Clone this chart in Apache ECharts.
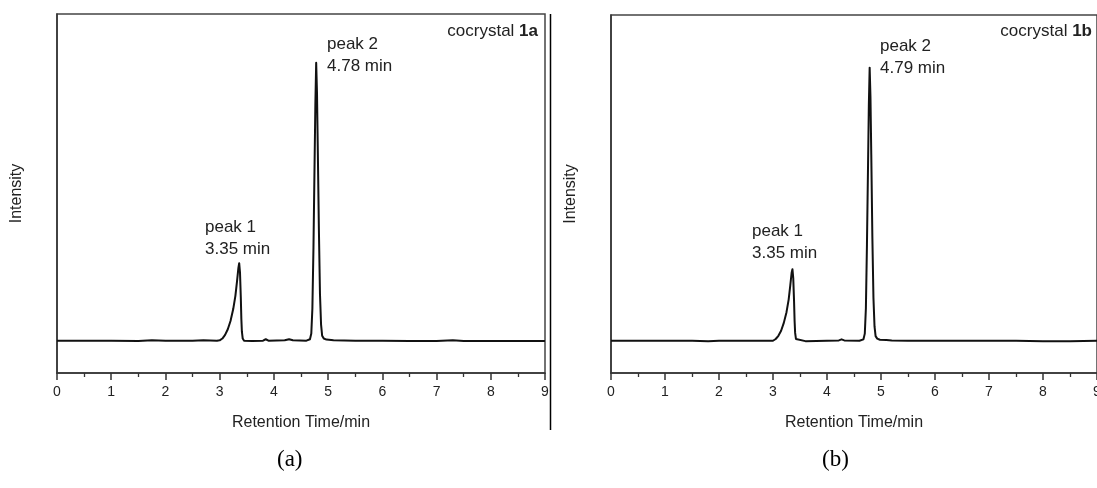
<!DOCTYPE html>
<html>
<head>
<meta charset="utf-8">
<script src="https://cdn.jsdelivr.net/npm/echarts@6/dist/echarts.min.js"></script>
<style>
  html, body { margin: 0; padding: 0; background: #fff; }
  #chart { width: 1097px; height: 488px; }
</style>
</head>
<body>
<div id="chart"></div>
<script>
// retention time ticks
const xTicks = [0, 1, 2, 3, 4, 5, 6, 7, 8, 9]

// chromatogram (a), cocrystal 1a: [time/min, intensity (a.u.)]
const traceA = [
  [0, 9.0], [0.5, 9.0], [1, 9.0], [1.5, 8.9], [1.75, 9.1], [2, 9.0], [2.5, 9.0], [2.7, 9.1],
  [2.95, 9.0], [3.0, 9.1], [3.05, 9.6], [3.1, 10.6], [3.15, 12.2], [3.2, 14.5], [3.25, 17.8],
  [3.29, 21.5], [3.32, 25.5], [3.345, 29.2], [3.36, 30.6], [3.375, 28.0], [3.39, 21.0],
  [3.4, 15.0], [3.41, 11.5], [3.425, 9.6], [3.45, 9.0], [3.6, 8.9],
  [3.8, 9.0], [3.85, 9.4], [3.9, 9.0], [4.2, 9.1], [4.28, 9.4], [4.35, 9.1], [4.6, 9.0],
  [4.665, 9.4], [4.69, 11.0], [4.71, 18.0], [4.73, 35.0], [4.75, 58.0], [4.765, 75.0],
  [4.78, 86.4], [4.795, 78.0], [4.81, 62.0], [4.83, 40.0], [4.85, 22.0], [4.87, 13.5],
  [4.89, 10.4], [4.92, 9.6], [4.97, 9.3], [5.1, 9.1], [5.5, 9.0], [6, 9.0],
  [6.5, 8.9], [7, 8.9], [7.3, 9.1], [7.5, 8.9], [8, 8.9], [8.5, 8.9], [9, 8.9]
]

// chromatogram (b), cocrystal 1b
const traceB = [
  [0, 9.0], [0.5, 9.0], [1, 9.0], [1.5, 9.0], [1.8, 8.9], [2, 9.0], [2.5, 9.0], [2.8, 9.0],
  [3.0, 9.0], [3.05, 9.5], [3.1, 10.4], [3.15, 11.8], [3.2, 14.0], [3.25, 17.0], [3.29, 20.5],
  [3.32, 24.5], [3.345, 28.0], [3.36, 29.0], [3.375, 26.5], [3.39, 20.0], [3.4, 14.5],
  [3.41, 11.2], [3.425, 9.5], [3.45, 9.0], [3.6, 8.9],
  [4.0, 9.0], [4.22, 9.1], [4.27, 9.4], [4.32, 9.1], [4.6, 9.0], [4.675, 9.4], [4.70, 11.0],
  [4.72, 18.0], [4.74, 36.0], [4.76, 58.0], [4.775, 75.0], [4.79, 85.3], [4.805, 77.0],
  [4.82, 61.0], [4.84, 38.0], [4.86, 21.0], [4.88, 13.0], [4.9, 10.3], [4.93, 9.6],
  [4.98, 9.3], [5.1, 9.2], [5.2, 9.1], [5.5, 9.0], [6, 9.0], [6.5, 9.0],
  [7, 9.0], [7.5, 9.0], [8, 8.9], [8.5, 8.9], [9, 9.0]
]

const peakLabelsA = [['peak 1', '3.35 min'], ['peak 2', '4.78 min']]
const peakLabelsB = [['peak 1', '3.35 min'], ['peak 2', '4.79 min']]

const FONT = 'Liberation Sans, Arial, sans-serif'
const chart = echarts.init(document.getElementById('chart'), null, { renderer: 'canvas' })

const grids = [
  { left: 57, top: 14, width: 488, height: 359 },
  { left: 611, top: 15, width: 486, height: 358 }
]

const xAxisBase = (gridIndex) => ({
  type: 'value',
  gridIndex,
  min: xTicks[0],
  max: xTicks[xTicks.length - 1],
  interval: 1,
  axisLine: { show: true, lineStyle: { color: '#333', width: 1.5 } },
  axisTick: { show: true, inside: false, length: 7, lineStyle: { color: '#333', width: 1.5 } },
  minorTick: { show: true, splitNumber: 2, length: 4, lineStyle: { color: '#333', width: 1.3 } },
  splitLine: { show: false },
  axisLabel: { color: '#222', fontSize: 14, fontFamily: FONT, margin: 12 },
  name: 'Retention Time/min',
  nameLocation: 'middle',
  nameGap: 42,
  nameTextStyle: { color: '#222', fontSize: 16, fontFamily: FONT }
})

const yAxisBase = (gridIndex) => ({
  type: 'value',
  gridIndex,
  min: 0,
  max: 100,
  axisLine: { show: true, lineStyle: { color: '#333', width: 1.5 } },
  axisTick: { show: false },
  axisLabel: { show: false },
  splitLine: { show: false },
  name: 'Intensity',
  nameLocation: 'middle',
  nameGap: 32,
  nameTextStyle: { color: '#222', fontSize: 16, fontFamily: FONT }
})

const lineSeries = (data, idx) => ({
  type: 'line',
  xAxisIndex: idx,
  yAxisIndex: idx,
  data,
  showSymbol: false,
  smooth: false,
  lineStyle: { color: '#111', width: 2, join: 'round' },
  silent: true
})

const txt = (left, top, text, size, extra) => ({
  type: 'text',
  left, top,
  style: Object.assign({ text, fill: '#222', font: `${size}px ${FONT}` }, extra || {})
})

const label2 = (x, y, lines) => ([
  txt(x, y, lines[0], 17),
  txt(x, y + 22, lines[1], 17)
])

const titleText = (right, top, name, id) => ({
  type: 'text',
  right, top,
  style: {
    text: `{n|${name} }{b|${id}}`,
    rich: {
      n: { fontSize: 17, fontFamily: FONT, fill: '#222' },
      b: { fontSize: 17, fontFamily: FONT, fontWeight: 'bold', fill: '#222' }
    }
  }
})

chart.setOption({
  animation: false,
  backgroundColor: '#fff',
  grid: grids.map(g => Object.assign({
    show: true,
    borderColor: '#444',
    borderWidth: 1.5,
    backgroundColor: 'transparent',
    outerBoundsMode: 'none',
    containLabel: false
  }, g)),
  xAxis: [xAxisBase(0), xAxisBase(1)],
  yAxis: [yAxisBase(0), yAxisBase(1)],
  series: [lineSeries(traceA, 0), lineSeries(traceB, 1)],
  graphic: [
    // divider between the two panels
    { type: 'line', shape: { x1: 550.5, y1: 14, x2: 550.5, y2: 430 }, style: { stroke: '#000', lineWidth: 1.5 } },
    ...label2(205, 219, peakLabelsA[0]),
    ...label2(327, 36, peakLabelsA[1]),
    ...label2(752, 223, peakLabelsB[0]),
    ...label2(880, 38, peakLabelsB[1]),
    titleText(559, 23, 'cocrystal', '1a'),
    titleText(5, 23, 'cocrystal', '1b'),
    txt(277, 448, '(a)', 23, { font: '23px Liberation Serif, Times New Roman, serif', fill: '#000' }),
    txt(822, 448, '(b)', 23, { font: '23px Liberation Serif, Times New Roman, serif', fill: '#000' })
  ]
})
</script>
</body>
</html>
